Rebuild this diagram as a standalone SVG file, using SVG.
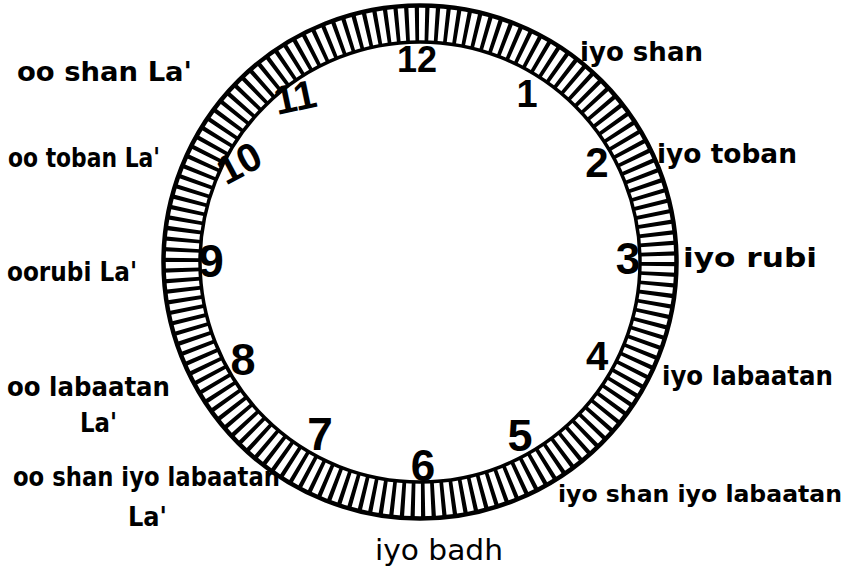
<svg xmlns="http://www.w3.org/2000/svg" width="862" height="575" viewBox="0 0 862 575">
<style>
.num{font-family:"Liberation Sans",Arial,sans-serif;font-weight:bold;fill:#000;text-anchor:middle}
.lbl{font-family:"DejaVu Sans","Liberation Sans",sans-serif;font-weight:bold;font-size:27px;fill:#000}
.thin{font-family:"DejaVu Sans","Liberation Sans",sans-serif;font-weight:normal;font-size:29px;fill:#000}
</style>
<rect width="862" height="575" fill="#fff"/>
<g id="clock-ring">
<circle cx="420" cy="262" r="238.5" fill="none" stroke="#000" stroke-width="37" pathLength="1500" stroke-dasharray="4 6"/>
<circle cx="420" cy="262" r="256.5" fill="none" stroke="#000" stroke-width="4.5"/>
<circle cx="420" cy="262" r="220" fill="none" stroke="#000" stroke-width="3.5"/>
</g>
<g id="numbers">
<g id="n12"><text class="num" x="417" y="72" font-size="36">12</text></g>
<g id="n1"><text class="num" x="527" y="107" font-size="38">1</text></g>
<g id="n2"><text class="num" x="597" y="177" font-size="42">2</text></g>
<g id="n3"><text class="num" x="628" y="274" font-size="44">3</text></g>
<g id="n4"><text class="num" x="597" y="370" font-size="40">4</text></g>
<g id="n5"><text class="num" x="520" y="451" font-size="45">5</text></g>
<g id="n6"><text class="num" x="423" y="481" font-size="44">6</text></g>
<g id="n7"><text class="num" x="320" y="450" font-size="46">7</text></g>
<g id="n8"><text class="num" x="243" y="375" font-size="45">8</text></g>
<g id="n9"><text class="num" x="211" y="277" font-size="46">9</text></g>
<g id="n10"><text class="num" x="239" y="177" font-size="40" transform="rotate(-28 239 163)">10</text></g>
<g id="n11"><text class="num" x="295" y="111" font-size="40" transform="rotate(-12 295 97)">11</text></g>
</g>
<g id="connectors"/>
<g id="labels">
<g id="l-oo-shan"><text class="lbl" x="17" y="81" textLength="175" lengthAdjust="spacingAndGlyphs">oo shan La'</text></g>
<g id="l-oo-toban"><text class="lbl" x="8" y="167" textLength="152" lengthAdjust="spacingAndGlyphs">oo toban La'</text></g>
<g id="l-oo-rubi"><text class="lbl" x="7" y="281" textLength="130" lengthAdjust="spacingAndGlyphs">oorubi La'</text></g>
<g id="l-oo-labaatan"><text class="lbl" x="7" y="396" textLength="163" lengthAdjust="spacingAndGlyphs">oo labaatan</text><text class="lbl" x="80" y="432" textLength="37" lengthAdjust="spacingAndGlyphs">La'</text></g>
<g id="l-oo-shan-iyo-labaatan"><text class="lbl" x="13" y="486" textLength="267" lengthAdjust="spacingAndGlyphs">oo shan iyo labaatan</text><text class="lbl" x="128" y="526" textLength="39" lengthAdjust="spacingAndGlyphs">La'</text></g>
<g id="l-iyo-shan"><text class="lbl" x="580" y="61" textLength="123" lengthAdjust="spacingAndGlyphs">iyo shan</text></g>
<g id="l-iyo-toban"><text class="lbl" x="657" y="163" textLength="140" lengthAdjust="spacingAndGlyphs">iyo toban</text></g>
<g id="l-iyo-rubi"><text class="lbl" x="683" y="267" textLength="134" lengthAdjust="spacingAndGlyphs">iyo rubi</text></g>
<g id="l-iyo-labaatan"><text class="lbl" x="662" y="385" textLength="171" lengthAdjust="spacingAndGlyphs">iyo labaatan</text></g>
<g id="l-iyo-shan-iyo-labaatan"><text class="lbl" x="558" y="502" style="font-size:23px" textLength="284" lengthAdjust="spacingAndGlyphs">iyo shan iyo labaatan</text></g>
<g id="l-iyo-badh"><text class="thin" x="375" y="560" textLength="128" lengthAdjust="spacingAndGlyphs">iyo badh</text></g>
</g>
</svg>
